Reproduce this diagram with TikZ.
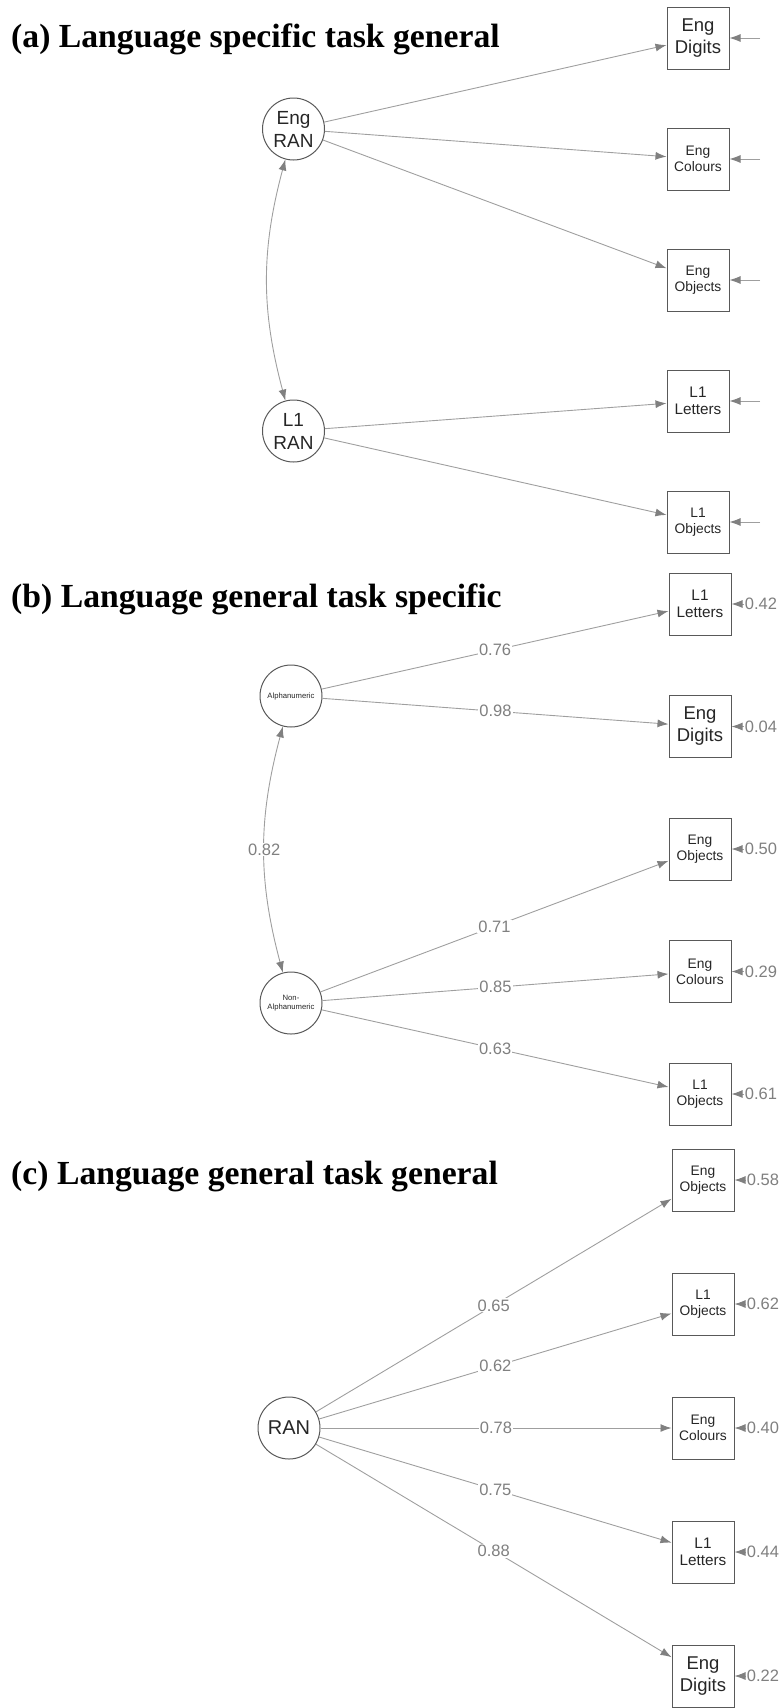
\documentclass[tikz,border=0pt]{standalone}
\usepackage{fontspec}
\setmainfont{Liberation Sans}
\newfontfamily\titelfont{Liberation Serif}
\usetikzlibrary{arrows.meta,positioning}

\begin{document}
\begin{tikzpicture}[x=1pt,y=-1pt,>={Latex[length=11pt,width=8pt,color=gray]}]
\tikzstyle{latent} = [circle, draw=black!65, line width=1pt, minimum size=62pt, inner sep=0pt, align=center, text=black!85, font=\fontsize{19}{23}\selectfont]
\tikzstyle{manifest} = [rectangle, draw=black!65, line width=1pt, minimum size=62pt, inner sep=0pt, align=center, text=black!85]
\tikzstyle{gross} = [font=\fontsize{18.5}{22}\selectfont]
\tikzstyle{mittel} = [font=\fontsize{15.3}{17}\selectfont]
\tikzstyle{klein} = [font=\fontsize{13.8}{16}\selectfont]
\tikzstyle{line} = [draw, ->, gray!75, line width=0.9pt]
\tikzstyle{wert} = [fill=white, text=gray, inner sep=1pt, font=\fontsize{16.5}{18}\selectfont]
\tikzstyle{titel} = [anchor=base west, inner sep=0pt, font=\titelfont\bfseries\fontsize{33.7}{40}\selectfont]

\useasboundingbox (0,0) rectangle (782,1708);

% (a) Language specific task general
\node [titel] (TitelA) at (11,47.5) {(a) Language specific task general};
\node [latent] (EngRAN) at (293.5,129) {Eng\\RAN};
\node [latent] (L1RAN) at (293.5,431) {L1\\RAN};
\node [manifest, gross] (EngDigitsA) at (698,38) {Eng\\Digits};
\node [manifest, klein, below of=EngDigitsA, node distance=121pt] (EngColoursA) {Eng\\Colours};
\node [manifest, klein, below of=EngColoursA, node distance=121pt] (EngObjectsA) {Eng\\Objects};
\node [manifest, mittel, below of=EngObjectsA, node distance=121pt] (L1LettersA) {L1\\Letters};
\node [manifest, klein, below of=L1LettersA, node distance=121pt] (L1ObjectsA) {L1\\Objects};
\path [line] (EngRAN) -- (EngDigitsA);
\path [line] (EngRAN) -- (EngColoursA);
\path [line] (EngRAN) -- (EngObjectsA);
\path [line] (L1RAN) -- (L1LettersA);
\path [line] (L1RAN) -- (L1ObjectsA);
\path [line, <->] (EngRAN) to [bend right=15] (L1RAN);
% Residuen ohne Werte
\coordinate [right of=EngDigitsA, node distance=62pt] (rEngDigitsA);
\coordinate [right of=EngColoursA, node distance=62pt] (rEngColoursA);
\coordinate [right of=EngObjectsA, node distance=62pt] (rEngObjectsA);
\coordinate [right of=L1LettersA, node distance=62pt] (rL1LettersA);
\coordinate [right of=L1ObjectsA, node distance=62pt] (rL1ObjectsA);
\path [line] (rEngDigitsA) -- (EngDigitsA);
\path [line] (rEngColoursA) -- (EngColoursA);
\path [line] (rEngObjectsA) -- (EngObjectsA);
\path [line] (rL1LettersA) -- (L1LettersA);
\path [line] (rL1ObjectsA) -- (L1ObjectsA);

% (b) Language general task specific
\node [titel] (TitelB) at (11,607) {(b) Language general task specific};
\node [latent, font=\fontsize{7.7}{9.3}\selectfont] (Alpha) at (291,696) {Alphanumeric};
\node [latent, font=\fontsize{7.7}{9.3}\selectfont] (NonAlpha) at (291,1003) {Non-\\Alphanumeric};
\node [manifest, mittel] (L1LettersB) at (700,604) {L1\\Letters};
\node [manifest, gross, below of=L1LettersB, node distance=122.5pt] (EngDigitsB) {Eng\\Digits};
\node [manifest, klein, below of=EngDigitsB, node distance=122.5pt] (EngObjectsB) {Eng\\Objects};
\node [manifest, klein, below of=EngObjectsB, node distance=122.5pt] (EngColoursB) {Eng\\Colours};
\node [manifest, klein, below of=EngColoursB, node distance=122.5pt] (L1ObjectsB) {L1\\Objects};
\path [line] (Alpha) -- node [wert] {0.76} (L1LettersB);
\path [line] (Alpha) -- node [wert] {0.98} (EngDigitsB);
\path [line] (NonAlpha) -- node [wert] {0.71} (EngObjectsB);
\path [line] (NonAlpha) -- node [wert] {0.85} (EngColoursB);
\path [line] (NonAlpha) -- node [wert] {0.63} (L1ObjectsB);
\path [line, <->] (Alpha) to [bend right=15] node [wert] {0.82} (NonAlpha);
% Residuen
\node [wert, right of=L1LettersB, node distance=61pt] (rL1LettersB) {0.42};
\node [wert, right of=EngDigitsB, node distance=61pt] (rEngDigitsB) {0.04};
\node [wert, right of=EngObjectsB, node distance=61pt] (rEngObjectsB) {0.50};
\node [wert, right of=EngColoursB, node distance=61pt] (rEngColoursB) {0.29};
\node [wert, right of=L1ObjectsB, node distance=61pt] (rL1ObjectsB) {0.61};
\path [line] (rL1LettersB) -- (L1LettersB);
\path [line] (rEngDigitsB) -- (EngDigitsB);
\path [line] (rEngObjectsB) -- (EngObjectsB);
\path [line] (rEngColoursB) -- (EngColoursB);
\path [line] (rL1ObjectsB) -- (L1ObjectsB);

% (c) Language general task general
\node [titel] (TitelC) at (11,1184) {(c) Language general task general};
\node [latent, font=\fontsize{20}{24}\selectfont] (RAN) at (289,1428) {RAN};
\node [manifest, klein] (EngObjectsC) at (703,1180) {Eng\\Objects};
\node [manifest, klein, below of=EngObjectsC, node distance=124pt] (L1ObjectsC) {L1\\Objects};
\node [manifest, klein, below of=L1ObjectsC, node distance=124pt] (EngColoursC) {Eng\\Colours};
\node [manifest, mittel, below of=EngColoursC, node distance=124pt] (L1LettersC) {L1\\Letters};
\node [manifest, gross, below of=L1LettersC, node distance=124pt] (EngDigitsC) {Eng\\Digits};
\path [line] (RAN) -- node [wert] {0.65} (EngObjectsC);
\path [line] (RAN) -- node [wert] {0.62} (L1ObjectsC);
\path [line] (RAN) -- node [wert] {0.78} (EngColoursC);
\path [line] (RAN) -- node [wert] {0.75} (L1LettersC);
\path [line] (RAN) -- node [wert] {0.88} (EngDigitsC);
% Residuen
\node [wert, right of=EngObjectsC, node distance=60pt] (rEngObjectsC) {0.58};
\node [wert, right of=L1ObjectsC, node distance=60pt] (rL1ObjectsC) {0.62};
\node [wert, right of=EngColoursC, node distance=60pt] (rEngColoursC) {0.40};
\node [wert, right of=L1LettersC, node distance=60pt] (rL1LettersC) {0.44};
\node [wert, right of=EngDigitsC, node distance=60pt] (rEngDigitsC) {0.22};
\path [line] (rEngObjectsC) -- (EngObjectsC);
\path [line] (rL1ObjectsC) -- (L1ObjectsC);
\path [line] (rEngColoursC) -- (EngColoursC);
\path [line] (rL1LettersC) -- (L1LettersC);
\path [line] (rEngDigitsC) -- (EngDigitsC);
\end{tikzpicture}
\end{document}
